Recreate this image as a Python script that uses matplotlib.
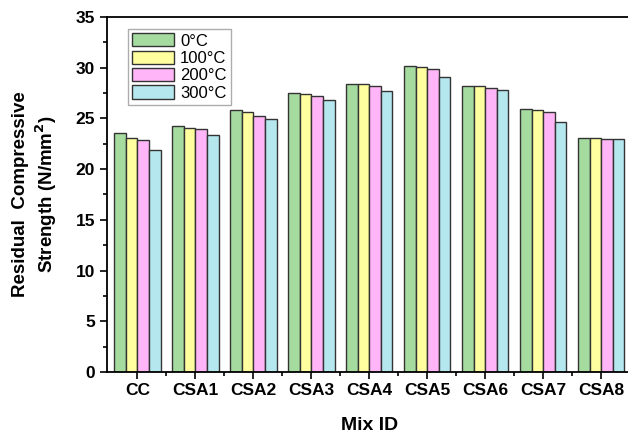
import numpy as np
import matplotlib.pyplot as plt
from matplotlib.ticker import MultipleLocator

plt.rcParams['font.family'] = ['Liberation Sans', 'DejaVu Sans']

mixes = ['CC', 'CSA1', 'CSA2', 'CSA3', 'CSA4', 'CSA5', 'CSA6', 'CSA7', 'CSA8']
temps = ['0°C', '100°C', '200°C', '300°C']
t0 = [23.6, 24.3, 25.8, 27.55, 28.4, 30.15, 28.2, 25.95, 23.1]
t100 = [23.1, 24.05, 25.6, 27.4, 28.35, 30.05, 28.15, 25.8, 23.05]
t200 = [22.9, 23.95, 25.2, 27.2, 28.2, 29.9, 28.0, 25.6, 23.0]
t300 = [21.85, 23.4, 24.9, 26.8, 27.7, 29.05, 27.8, 24.6, 22.95]
colors = ['#a6dba0', '#ffff9f', '#ffb5f7', '#b5e7ee']

fig = plt.figure(figsize=(6.28, 4.37), dpi=100)
ax = fig.add_axes([0.170, 0.149, 0.838, 0.812])

x = np.arange(len(mixes))
w = 0.2
for i, (vals, lab) in enumerate(zip([t0, t100, t200, t300], temps)):
    ax.bar(x + (i - 1.5) * w, vals, w, color=colors[i], edgecolor='#333333',
           linewidth=1.0, label=lab)

ax.set_xlim(-0.53, 8.55)
ax.set_ylim(0, 35)
ax.yaxis.set_major_locator(MultipleLocator(5))
ax.yaxis.set_minor_locator(MultipleLocator(2.5))
ax.set_xticks(x)
ax.set_xticklabels(mixes, fontweight='bold', fontsize=12.5)
ax.set_xticks(x[:-1] + 0.5, minor=True)
ax.tick_params(axis='both', which='major', direction='out', length=5, width=1.2)
ax.tick_params(axis='both', which='minor', direction='out', length=3, width=1.2)
ax.tick_params(axis='y', labelsize=12.5)
ax.tick_params(axis='x', pad=3)
for t in ax.get_yticklabels():
    t.set_fontweight('bold')
for s in ax.spines.values():
    s.set_linewidth(1.3)

ax.set_xlabel('Mix ID', fontweight='bold', fontsize=14, labelpad=14)
ax.set_ylabel('Residual  Compressive\nStrength (N/mm$^\\mathbf{2}$)', fontweight='bold',
              fontsize=13.5, labelpad=12)

leg = ax.legend(loc='upper left', bbox_to_anchor=(0.025, 0.99), fontsize=12,
                frameon=True, fancybox=False, edgecolor='#999999',
                handlelength=2.5, handleheight=0.85, borderpad=0.25,
                labelspacing=0.12, handletextpad=0.35)
leg.get_frame().set_linewidth(1.0)

fig.savefig('out.png', dpi=100)
